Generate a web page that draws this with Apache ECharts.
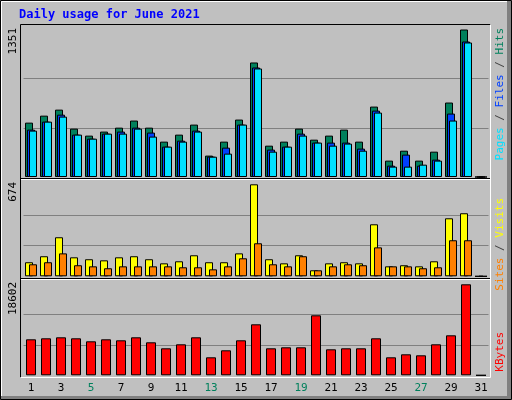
<!DOCTYPE html>
<html>
<head>
<meta charset="utf-8">
<script src="https://cdn.jsdelivr.net/npm/echarts@6/dist/echarts.min.js"></script>
<style>
html, body { margin: 0; padding: 0; background: #c0c0c0; }
#chart { width: 512px; height: 400px; }
</style>
</head>
<body>
<div id="chart"></div>
<script>
// days of June 2021
var days = [];
for (var d = 1; d <= 31; d++) days.push(String(d));
var weekends = ['5', '6', '12', '13', '19', '20', '26', '27'];

var hits   = [498, 562, 617, 443, 379, 416, 452, 517, 452, 324, 388, 480, 196, 324, 526, 1049, 287, 324, 443, 342, 379, 434, 324, 645, 150, 241, 150, 232, 682, 1351, 0];
var files  = [434, 507, 571, 388, 351, 397, 416, 452, 407, 278, 333, 425, 187, 269, 480, 1003, 251, 278, 397, 315, 315, 315, 260, 608, 104, 205, 104, 159, 581, 1241, 0];
var pages  = [425, 507, 553, 388, 351, 397, 397, 443, 370, 278, 324, 416, 186, 214, 480, 994, 232, 278, 379, 315, 287, 306, 241, 590, 95, 95, 113, 150, 517, 1232, 0];
var visits = [103, 147, 286, 139, 125, 117, 139, 147, 125, 95, 110, 154, 103, 103, 168, 674, 125, 95, 154, 44, 95, 103, 95, 381, 73, 81, 73, 110, 425, 462, 0];
var sites  = [88, 103, 168, 81, 73, 59, 73, 73, 73, 73, 66, 66, 51, 73, 132, 242, 88, 73, 147, 44, 73, 88, 81, 212, 73, 73, 59, 66, 264, 264, 0];
var kbytes = [7359, 7564, 7768, 7564, 6950, 7359, 7155, 7768, 6746, 5519, 6337, 7768, 3680, 5111, 7155, 10425, 5519, 5724, 5724, 12265, 5315, 5519, 5519, 7564, 3680, 4293, 4088, 6337, 8177, 18602, 0];

var maxHits = Math.max.apply(null, hits);
var maxVisits = Math.max.apply(null, visits);
var maxKB = Math.max.apply(null, kbytes);

var mono = 'DejaVu Sans Mono';
var gridLine = ['transparent', '#808080', '#808080', 'transparent'];

function xAxis(idx, showLabels) {
    return {
        type: 'category', gridIndex: idx, data: days,
        axisLine: { show: false }, axisTick: { show: false },
        axisLabel: {
            show: showLabels, fontFamily: mono, fontSize: 11, margin: 7,
            color: function (v) { return weekends.indexOf(v) >= 0 ? '#00805c' : '#000'; }
        }
    };
}
function yAxis(idx, max) {
    return {
        type: 'value', gridIndex: idx, min: 0, max: max, interval: max / 3,
        axisLabel: { show: false }, axisLine: { show: false }, axisTick: { show: false },
        splitLine: { show: true, lineStyle: { color: gridLine, width: 1 } }
    };
}
function bar(name, data, color, axis, width, gap) {
    return {
        name: name, type: 'bar', xAxisIndex: axis, yAxisIndex: axis, data: data,
        barWidth: width, barGap: gap, animation: false, silent: true,
        itemStyle: { color: color, borderColor: '#000', borderWidth: 1 }
    };
}
function vlabel(x, y, text, rich) {
    return {
        type: 'text', x: x, y: y, rotation: Math.PI / 2,
        style: { text: text, rich: rich, fontFamily: mono, fontSize: 11, align: 'right', verticalAlign: 'middle', fill: '#000' }
    };
}

var chart = echarts.init(document.getElementById('chart'));
chart.setOption({
    backgroundColor: '#c0c0c0',
    animation: false,
    grid: [
        { left: 23.5, width: 465, top: 29.5, height: 147.5 },
        { left: 23.5, width: 465, top: 184.3, height: 92 },
        { left: 23.5, width: 465, top: 284.3, height: 91 }
    ],
    xAxis: [xAxis(0, false), xAxis(1, false), xAxis(2, true)],
    yAxis: [yAxis(0, maxHits), yAxis(1, maxVisits), yAxis(2, maxKB)],
    series: [
        bar('Hits', hits, '#00805c', 0, 8, '-75%'),
        bar('Files', files, '#0040ff', 0, 8, '-75%'),
        bar('Pages', pages, '#00e0ff', 0, 8, '-75%'),
        bar('Visits', visits, '#ffff00', 1, 8, '-50%'),
        bar('Sites', sites, '#ff8000', 1, 8, '-50%'),
        bar('KBytes', kbytes, '#ff0000', 2, 10, '0%')
    ],
    graphic: [
        // outer 3D frame
        { type: 'rect', z: -10, shape: { x: 0.5, y: 0.5, width: 511, height: 399 }, style: { fill: 'none', stroke: '#000' } },
        { type: 'polyline', z: -9, shape: { points: [[1.5, 397], [1.5, 1.5], [507, 1.5]] }, style: { fill: 'none', stroke: '#fff' } },
        { type: 'rect', z: -9, shape: { x: 507, y: 1, width: 4, height: 398 }, style: { fill: '#808080' } },
        { type: 'rect', z: -9, shape: { x: 1, y: 396, width: 510, height: 3 }, style: { fill: '#808080' } },
        // plot frames
        { type: 'polyline', z: 10, shape: { points: [[20.5, 377.5], [20.5, 24.5], [490.5, 24.5]] }, style: { fill: 'none', stroke: '#000' } },
        { type: 'polyline', z: 10, shape: { points: [[20.5, 377.5], [490.5, 377.5], [490.5, 24.5]] }, style: { fill: 'none', stroke: '#fff' } },
        { type: 'line', z: 10, shape: { x1: 21, y1: 178.5, x2: 490, y2: 178.5 }, style: { stroke: '#000' } },
        { type: 'line', z: 10, shape: { x1: 21, y1: 179.5, x2: 490, y2: 179.5 }, style: { stroke: '#fff' } },
        { type: 'line', z: 10, shape: { x1: 21, y1: 278.5, x2: 490, y2: 278.5 }, style: { stroke: '#000' } },
        { type: 'line', z: 10, shape: { x1: 21, y1: 279.5, x2: 490, y2: 279.5 }, style: { stroke: '#fff' } },
        // title
        { type: 'text', x: 19, y: 9, style: { text: 'Daily usage for June 2021', fontFamily: mono, fontSize: 12, fontWeight: 'bold', fill: '#0000ff' } },
        // max labels
        vlabel(13, 28, String(maxHits)),
        vlabel(13, 182, String(maxVisits)),
        vlabel(13, 282, String(maxKB)),
        // legends
        vlabel(500, 28, '{h|Pages} {s|/} {f|Files} {s|/} {p|Hits}', {
            h: { fill: '#00e0ff', fontFamily: mono, fontSize: 11 },
            f: { fill: '#0040ff', fontFamily: mono, fontSize: 11 },
            p: { fill: '#00805c', fontFamily: mono, fontSize: 11 },
            s: { fill: '#404040', fontFamily: mono, fontSize: 11 }
        }),
        vlabel(500, 198, '{a|Sites} {s|/} {b|Visits}', {
            a: { fill: '#ff8000', fontFamily: mono, fontSize: 11 },
            b: { fill: '#ffff00', fontFamily: mono, fontSize: 11 },
            s: { fill: '#404040', fontFamily: mono, fontSize: 11 }
        }),
        vlabel(500, 332, '{k|KBytes}', { k: { fill: '#ff0000', fontFamily: mono, fontSize: 11 } })
    ]
});
</script>
</body>
</html>
